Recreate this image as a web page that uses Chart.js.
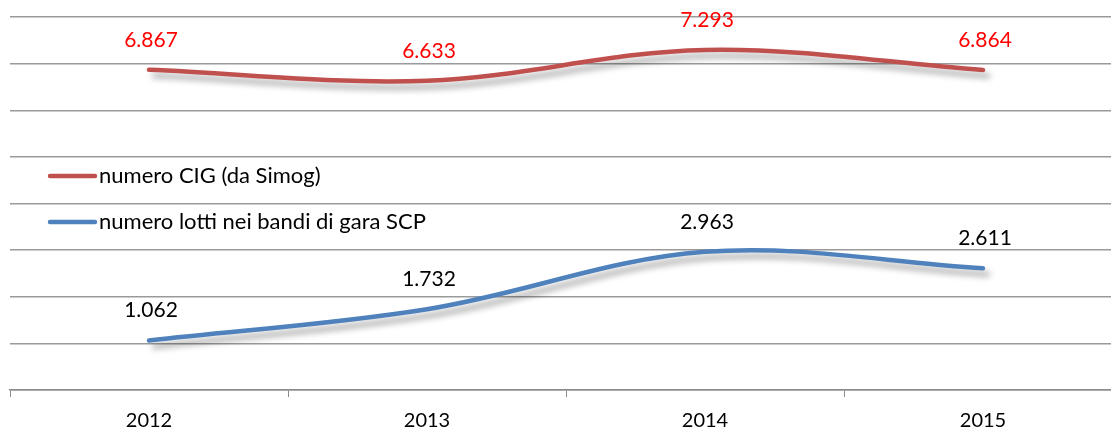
<!DOCTYPE html>
<html>
<head>
<meta charset="utf-8">
<script src="https://cdn.jsdelivr.net/npm/chart.js@4.4.0/dist/chart.umd.min.js"></script>
<style>
  html, body { margin: 0; padding: 0; background: #fff; overflow: hidden; }
  .wrap { width: 1128px; height: 430px; }
</style>
</head>
<body>
<div class="wrap"><canvas id="lineChart"></canvas></div>
<script>
const years = ['2012', '2013', '2014', '2015'];
const cigValues = [6.867, 6.633, 7.293, 6.864];
const lottiValues = [1.062, 1.732, 2.963, 2.611];
const seriesNames = ['numero CIG (da Simog)', 'numero lotti nei bandi di gara SCP'];
const labelColors = ['#FF0000', '#000000'];

const FONT = 'Lato, "Liberation Sans", sans-serif';

// grey shadow under each line
const shadowPlugin = {
    id: 'lineShadow',
    beforeDatasetDraw(chart) {
        const ctx = chart.ctx;
        ctx.save();
        ctx.shadowColor = 'rgba(0,0,0,0.35)';
        ctx.shadowBlur = 6;
        ctx.shadowOffsetX = 5;
        ctx.shadowOffsetY = 6;
    },
    afterDatasetDraw(chart) {
        chart.ctx.restore();
    }
};

// value labels above the points
const valueLabels = {
    id: 'valueLabels',
    afterDatasetsDraw(chart) {
        const ctx = chart.ctx;
        ctx.save();
        ctx.font = '21px ' + FONT;
        ctx.textAlign = 'center';
        ctx.textBaseline = 'middle';
        chart.data.datasets.forEach((ds, i) => {
            const meta = chart.getDatasetMeta(i);
            ctx.fillStyle = labelColors[i];
            meta.data.forEach((pt, j) => {
                ctx.fillText(ds.data[j].toFixed(3), pt.x + 2, pt.y - 30);
            });
        });
        ctx.restore();
    }
};

// legend drawn inside the plot, left side
const insideLegend = {
    id: 'insideLegend',
    afterDraw(chart) {
        const ctx = chart.ctx;
        ctx.save();
        ctx.font = '22px ' + FONT;
        ctx.textBaseline = 'middle';
        ctx.lineCap = 'round';
        ctx.lineWidth = 4.5;
        const rows = [176, 222];
        chart.data.datasets.forEach((ds, i) => {
            const y = rows[i];
            ctx.strokeStyle = ds.borderColor;
            ctx.beginPath();
            ctx.moveTo(50, y);
            ctx.lineTo(95, y);
            ctx.stroke();
            ctx.fillStyle = '#000';
            ctx.fillText(ds.label, 99, y);
        });
        ctx.restore();
    }
};

new Chart(document.getElementById('lineChart'), {
    type: 'line',
    data: {
        labels: years,
        datasets: [
            {
                label: seriesNames[0],
                data: cigValues,
                borderColor: '#C0504D',
                borderWidth: 4.5,
                borderCapStyle: 'round',
                tension: 0.35,
                pointRadius: 0,
                fill: false
            },
            {
                label: seriesNames[1],
                data: lottiValues,
                borderColor: '#4F81BD',
                borderWidth: 4.5,
                borderCapStyle: 'round',
                tension: 0.35,
                pointRadius: 0,
                fill: false
            }
        ]
    },
    options: {
        responsive: true,
        maintainAspectRatio: false,
        animation: false,
        layout: { padding: { left: 10, right: 6, top: 17, bottom: 0 } },
        plugins: {
            legend: { display: false },
            tooltip: { enabled: false }
        },
        scales: {
            x: {
                offset: true,
                afterFit(scale) { scale.height = 40; },
                grid: {
                    offset: true,
                    drawOnChartArea: false,
                    drawTicks: true,
                    tickLength: 7,
                    color: '#8c8c8c'
                },
                border: { display: true, color: '#8c8c8c', width: 1.5 },
                ticks: {
                    color: '#000',
                    font: { family: FONT, size: 20 },
                    padding: 12
                }
            },
            y: {
                min: 0,
                max: 8,
                ticks: { display: false, stepSize: 1 },
                border: { display: false },
                grid: {
                    drawTicks: false,
                    color: '#9a9a9a',
                    lineWidth: 1.5
                }
            }
        }
    },
    plugins: [shadowPlugin, valueLabels, insideLegend]
});
</script>
</body>
</html>
